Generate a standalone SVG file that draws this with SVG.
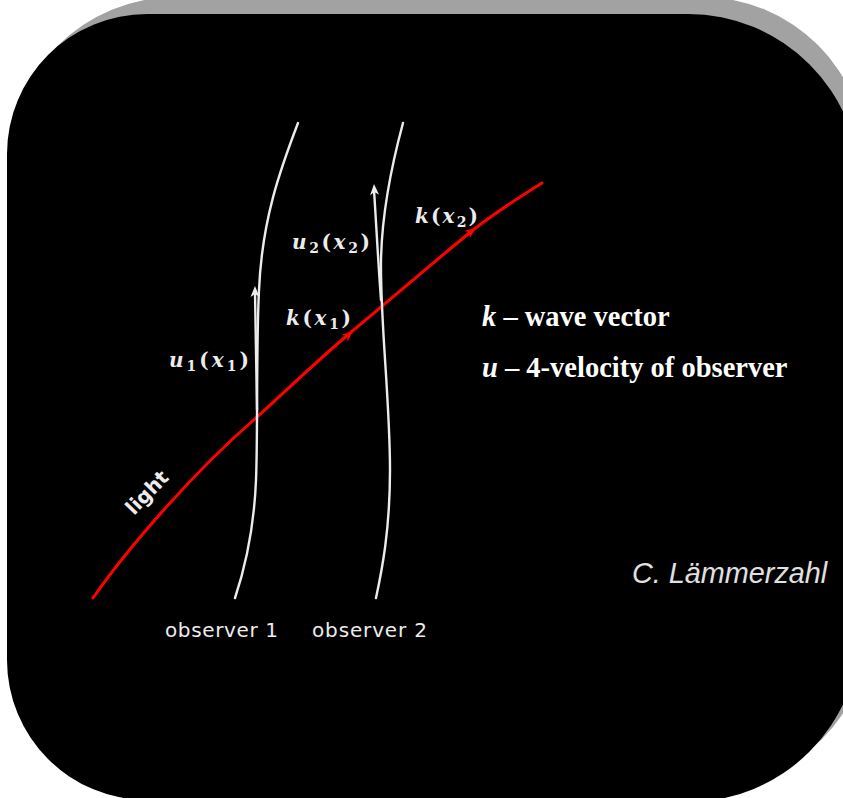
<svg xmlns="http://www.w3.org/2000/svg" width="843" height="798" viewBox="0 0 843 798">
  <style>
    .world { fill: none; stroke: #ececec; stroke-width: 2.4; stroke-linecap: round; }
    .ray { fill: none; stroke: #ff0000; stroke-width: 3; stroke-linecap: round; }
    .math { font-family: "DejaVu Serif", "Liberation Serif", serif; font-style: italic; font-weight: bold; font-size: 20px; fill: #ececec; }
    .up { font-style: normal; }
    .sub { font-size: 14px; font-style: normal; }
    .obs { font-family: "DejaVu Sans", "Liberation Sans", sans-serif; font-size: 20px; fill: #ececec; }
    .legend { font-family: "Liberation Serif", "Times New Roman", serif; font-weight: bold; font-size: 28.5px; fill: #ffffff; }
    .author { font-family: "Liberation Sans", Arial, sans-serif; font-style: italic; font-size: 28.8px; fill: #e0e0e0; }
  </style>
  <defs>
    <path id="head" d="M0,0 L-11,-4.5 L-8,0 L-11,4.5 Z"/>
  </defs>

  <g id="background">
    <path d="M8,165 A168,168 0 0 1 176,-3 L702,-3 A164,164 0 0 1 866,161 L872,618 A172,172 0 0 1 700,790 L150,790 A140,140 0 0 1 10,650 Z" fill="#a2a2a2"/>
    <path d="M7,154 A140,140 0 0 1 147,14 L688,14 A172,172 0 0 1 860,186 L860,630 A172,172 0 0 1 688,802 L147,800 A140,140 0 0 1 7,660 Z" fill="#000000"/>
  </g>

  <g id="connectors">
    <path id="light-ray" class="ray" d="M93,598 C125,552 190,475 257,417 C290,387 318,360 350,333 C390,300 430,265 473,230 C495,213 518,198 542,183"/>
    <use href="#head" fill="#ff0000" transform="translate(353,331) rotate(-41)"/>
    <use href="#head" fill="#ff0000" transform="translate(476,228) rotate(-36)"/>
    <path class="world" d="M257,410 C256,370 256,330 255,292"/>
    <use href="#head" fill="#ececec" transform="translate(255,286) rotate(-90)"/>
    <path class="world" d="M381,300 C378,260 376,220 374,190"/>
    <use href="#head" fill="#ececec" transform="translate(374,184) rotate(-93)"/>
  </g>

  <g id="observer1">
    <path class="world" d="M298,123 C280,170 262,220 259,290 C256,350 258,430 256,480 C254,530 246,565 235,598"/>
    <text class="obs" x="165" y="637" textLength="113" lengthAdjust="spacing">observer 1</text>
  </g>

  <g id="observer2">
    <path class="world" d="M403,123 C393,160 382,210 381,260 C380,320 390,400 390,470 C390,530 382,570 376,598"/>
    <text class="obs" x="312" y="637" textLength="115" lengthAdjust="spacing">observer 2</text>
  </g>

  <g id="light">
    <text class="obs" font-size="19" font-weight="bold" transform="translate(134,516) rotate(-46)">light</text>
  </g>

  <g id="labels">
    <text class="math" x="169" y="367" textLength="80" lengthAdjust="spacing">u<tspan class="sub" dy="4">1</tspan><tspan class="up" dy="-4">(</tspan>x<tspan class="sub" dy="4">1</tspan><tspan class="up" dy="-4">)</tspan></text>
    <text class="math" x="286" y="325" textLength="65" lengthAdjust="spacing">k<tspan class="up">(</tspan>x<tspan class="sub" dy="4">1</tspan><tspan class="up" dy="-4">)</tspan></text>
    <text class="math" x="292" y="249" textLength="78" lengthAdjust="spacing">u<tspan class="sub" dy="4">2</tspan><tspan class="up" dy="-4">(</tspan>x<tspan class="sub" dy="4">2</tspan><tspan class="up" dy="-4">)</tspan></text>
    <text class="math" x="415" y="223" textLength="63" lengthAdjust="spacing">k<tspan class="up">(</tspan>x<tspan class="sub" dy="4">2</tspan><tspan class="up" dy="-4">)</tspan></text>
  </g>

  <g id="legend">
    <text class="legend" x="482" y="326"><tspan font-style="italic">k</tspan> – wave vector</text>
    <text class="legend" x="482" y="377"><tspan font-style="italic">u</tspan> – 4-velocity of observer</text>
    <text class="author" x="632" y="583">C. Lämmerzahl</text>
  </g>
</svg>
